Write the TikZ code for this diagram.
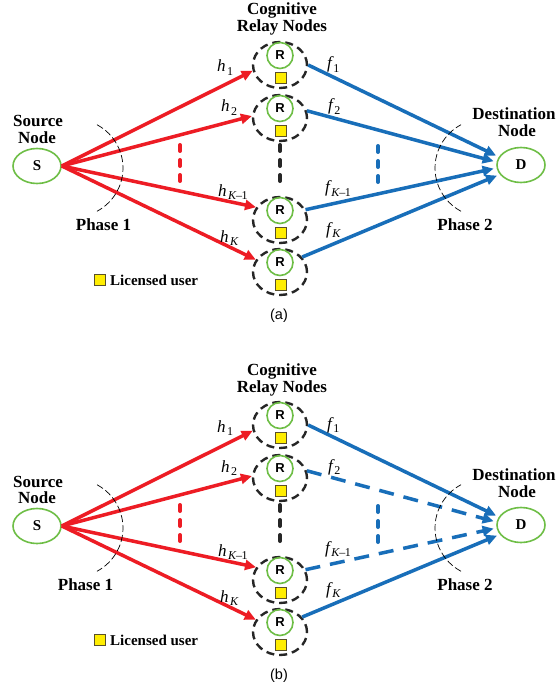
\documentclass[tikz,border=0pt]{standalone}
\usepackage{fontspec}
\setmainfont{Liberation Serif}
\newfontfamily\arialfont{Liberation Sans}
\usetikzlibrary{arrows.meta,shapes.geometric,calc}

\definecolor{linkred}{RGB}{237,28,36}
\definecolor{linkblue}{RGB}{24,110,185}
\definecolor{nodegreen}{RGB}{110,190,70}
\definecolor{puyellow}{RGB}{255,237,0}
\definecolor{puedge}{RGB}{90,80,40}

\tikzset{
  endpoint/.style={ellipse, draw=nodegreen, line width=1.6pt, minimum width=48pt,
    minimum height=35pt, inner sep=0pt, font=\fontsize{15}{15}\selectfont\bfseries},
  relaycell/.style={ellipse, draw=black!85, line width=2.4pt, dash pattern=on 8pt off 5pt,
    minimum width=54pt, minimum height=46pt, inner sep=0pt},
  relaycore/.style={circle, draw=nodegreen, line width=1.6pt, minimum size=26pt,
    inner sep=0pt, font=\arialfont\fontsize{13}{13}\selectfont\bfseries},
  licensed/.style={rectangle, draw=puedge, fill=puyellow, line width=0.8pt,
    minimum size=11pt, inner sep=0pt},
  title/.style={font=\fontsize{17}{17}\selectfont\bfseries, inner sep=0pt, anchor=base},
  keytext/.style={font=\fontsize{15}{15}\selectfont\bfseries, inner sep=0pt, anchor=base west},
  chan/.style={font=\fontsize{17}{17}\selectfont\itshape, inner sep=0pt, anchor=base west},
  caption/.style={font=\arialfont\fontsize{14.5}{14.5}\selectfont, inner sep=0pt},
  hop1/.style={draw=linkred, line width=3.5pt, -{Triangle[length=11pt,width=10pt]}},
  hop2/.style={draw=linkblue, line width=3.5pt, -{Triangle[length=11pt,width=10pt]},
    shorten >=3pt},
  idle/.style={dash pattern=on 15pt off 10pt},
  phasearc/.style={draw=black, line width=0.7pt, dash pattern=on 7pt off 3pt},
  vdots/.style={line width=4pt, line cap=round, dash pattern=on 6pt off 9pt}
}

% channel subscript, set upright and lowered
\newcommand\chsub[1]{\kern1.5pt\raisebox{-3.5pt}{\fontsize{12}{12}\selectfont\upshape #1}}
\newcommand\kone{\textit{K}\kern-0.5pt\upshape--\kern-0.5pt1}

% one two-hop relay panel:
% #1 name prefix, #2 vertical offset, #3 style of the two middle second-hop links,
% #4 x of the Phase 1 label, #5 caption
\newcommand\relaypanel[5]{%
\begin{scope}[shift={(0,#2)}]
  % source and destination
  \node[endpoint] (#1S) at (37,166) {S};
  \node[endpoint] (#1D) at (521,165) {D};
  \node[title] (#1st) at (38,127) {Source};
  \node[title] (#1sb) at (37,143.5) {Node};
  \node[title] (#1dt) at (514,120) {Destination};
  \node[title] (#1db) at (517,137) {Node};
  \node[title] (#1ct) at (282,15) {Cognitive};
  \node[title] (#1cb) at (282,32) {Relay Nodes};

  % cognitive relays, each with its licensed user
  \foreach \k/\y in {1/65,2/118,3/220,4/272}{
    \node[relaycell] (#1r\k) at (280,\y) {};
    \node[relaycore] (#1c\k) at (280,\y-9.5) {R};
    \node[licensed] (#1u\k) at (280.5,\y+13) {};
  }

  % first hop: source to relays
  \draw[hop1] (#1S.east) -- (#1r1.192);
  \draw[hop1] (#1S.east) -- (#1r2.176);
  \draw[hop1] (#1S.east) -- (#1r3.152);
  \draw[hop1] (#1S.east) -- (#1r4.153);

  % second hop: relays to destination
  \draw[hop2] (#1r1.0) -- (#1D.160);
  \draw[hop2,#3] (#1r2.15) -- (#1D.173);
  \draw[hop2,#3] (#1r3.22) -- (#1D.187);
  \draw[hop2] (#1r4.34) -- (#1D.204);

  % channel labels
  \node[chan] (#1h1) at (217,72) {h\chsub{1}};
  \node[chan] (#1h2) at (221,112) {h\chsub{2}};
  \node[chan] (#1h3) at (218,196) {h\chsub{\kone}};
  \node[chan] (#1h4) at (220,242) {h\chsub{\textit{K}}};
  \node[chan] (#1f1) at (327,69) {f\chsub{1}};
  \node[chan] (#1f2) at (328,111) {f\chsub{2}};
  \node[chan] (#1f3) at (325,193) {f\chsub{\kone}};
  \node[chan] (#1f4) at (326,234) {f\chsub{\textit{K}}};

  % vertical ellipses
  \coordinate (#1ra) at (180,145); \coordinate (#1rb) at (180,182);
  \coordinate (#1ka) at (280,145); \coordinate (#1kb) at (280,184);
  \coordinate (#1ba) at (378,146); \coordinate (#1bb) at (378,183);
  \draw[vdots,linkred] (#1ra) -- (#1rb);
  \draw[vdots,black!85] (#1ka) -- (#1kb);
  \draw[vdots,linkblue] (#1ba) -- (#1bb);

  % phase arcs
  \draw[phasearc] ([shift={(37pt,-2pt)}]#1S.center) ++(-62:49)
    arc[start angle=-62,end angle=62,radius=49];
  \draw[phasearc] ([shift={(-37pt,-3pt)}]#1D.center) ++(118:49)
    arc[start angle=118,end angle=242,radius=49];
  \node[title] (#1p1) at (#4,230) {Phase 1};
  \node[title] (#1p2) at (465,230) {Phase 2};

  % key and caption
  \node[licensed] (#1key) at (99.5,279.5) {};
  \node[keytext] (#1keyt) at (110,285) {Licensed user};
  \node[caption] (#1cap) at (279,316) {#5};
\end{scope}}

\begin{document}
\begin{tikzpicture}[x=1pt,y=-1pt]
  \path[fill=white,use as bounding box] (0,0) rectangle (557,687);
  \relaypanel{a}{0}{}{103.5}{(a)}
  \relaypanel{b}{360}{idle}{85.5}{(b)}
\end{tikzpicture}
\end{document}
